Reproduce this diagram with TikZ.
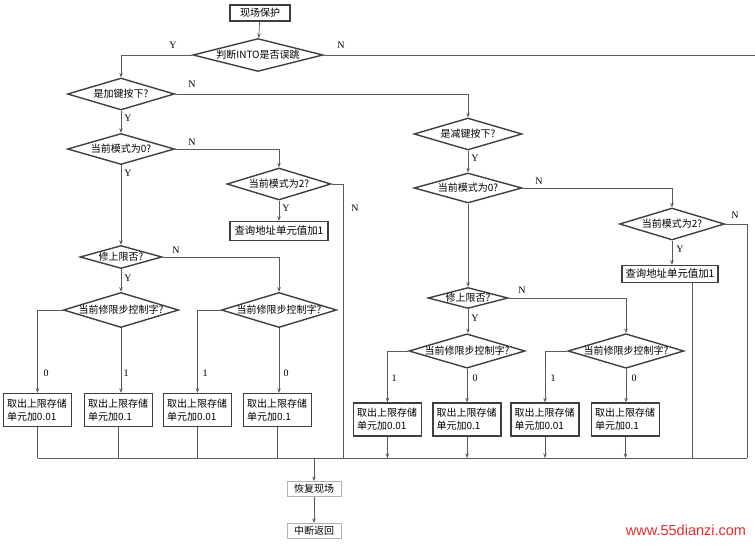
\documentclass[tikz,border=0pt]{standalone}
\usepackage{fontspec}
\setmainfont{Liberation Serif}
\newfontfamily\cjk{Noto Sans CJK SC}
\newfontfamily\wmfont{Liberation Sans}
\usepackage{tikz}
\usetikzlibrary{shapes.geometric,arrows.meta,positioning}
\definecolor{ln}{RGB}{90,90,90}
\definecolor{wm}{RGB}{225,45,45}

\begin{document}
\begin{tikzpicture}[x=1pt, y=-1pt, line width=0.7pt, draw=ln,
  font=\cjk\fontsize{10}{13}\selectfont,
  dec/.style 2 args={draw=ln!70!black, line width=1.4pt, diamond, inner sep=0pt,
              /utils/exec={\pgfmathsetmacro\asp{#1/#2}}, aspect=\asp,
              minimum width=#1pt, minimum height=#2pt},
  box/.style={draw=ln!70!black, line width=1.4pt, inner sep=2pt},
  qbox/.style={box, font=\cjk\fontsize{10.4}{13}\selectfont},
  res/.style={box, align=left, text width=61pt, inner xsep=3.5pt, minimum height=33pt},
  endbox/.style={draw=gray!60, line width=0.8pt, minimum width=54pt, minimum height=15pt, inner sep=1pt},
  lab/.style={font=\rmfamily\fontsize{10}{10}\selectfont, inner sep=0pt},
  ar/.style={-{Stealth[length=4.5pt,width=3.5pt]}}]
  \useasboundingbox (0,0) rectangle (755,544);

  % left half
  \node[box, minimum width=60pt, minimum height=16pt] (prot) at (260,13) {现场保护};
  \node[dec={130}{33}] (judge) at (258,55) {判断INTO是否误跳};
  \node[dec={107}{32}] (jia) at (121,94) {是加键按下?};
  \node[dec={107}{31}] (m0L) at (121,149) {当前模式为0?};
  \node[dec={104}{32}] (m2L) at (279,184) {当前模式为2?};
  \node[qbox, minimum width=98pt, minimum height=19pt] (qL) at (279,231) {查询地址单元值加1};
  \node[dec={82}{23}] (limL) at (121,257) {修上限否?};
  \node[dec={115}{35}] (ctlA) at (121,310) {当前修限步控制字?};
  \node[dec={115}{35}] (ctlB) at (279,310) {当前修限步控制字?};
  \node[res] (b1) at (37.5,410) {取出上限存储\\单元加0.01};
  \node[res] (b2) at (118.5,410) {取出上限存储\\单元加0.1};
  \node[res] (b3) at (197.5,410) {取出上限存储\\单元加0.01};
  \node[res] (b4) at (277.5,410) {取出上限存储\\单元加0.1};

  % right half
  \node[dec={108}{32}] (jian) at (468,134) {是减键按下?};
  \node[dec={108}{30}] (m0R) at (468,188) {当前模式为0?};
  \node[dec={105}{32}] (m2R) at (672,224) {当前模式为2?};
  \node[qbox, minimum width=96pt, minimum height=17pt] (qR) at (670,274) {查询地址单元值加1};
  \node[dec={80}{21}] (limR) at (468,298) {修上限否?};
  \node[dec={115}{34}] (ctlC) at (467,351) {当前修限步控制字?};
  \node[dec={114}{34}] (ctlD) at (626,351) {当前修限步控制字?};
  \node[res] (b5) at (387.5,419.5) {取出上限存储\\单元加0.01};
  \node[res] (b6) at (467,419.5) {取出上限存储\\单元加0.1};
  \node[res] (b7) at (545,419.5) {取出上限存储\\单元加0.01};
  \node[res] (b8) at (625.5,419.5) {取出上限存储\\单元加0.1};

  \node[endbox] (rest) at (314,489) {恢复现场};
  \node[endbox, below=26pt of rest] (ret) {中断返回};
  \node[text=wm, font=\wmfont\fontsize{14.5}{15}\selectfont, inner sep=0pt] (wmark) at (686,530) {www.55dianzi.com};

  \coordinate (eR) at (755,55);
  \coordinate (bR) at (747,458);
  \coordinate (jL) at (343,458);
  \coordinate (jQ) at (692,458);

  \draw[ar] (prot) -- (judge);
  \draw[ar] (judge.west) -| (jia.north);
  \draw (judge.east) -- (eR);
  \draw[ar] (jia.east) -| (jian.north);
  \draw[ar] (jia) -- (m0L);
  \draw[ar] (m0L.east) -| (m2L.north);
  \draw (m2L.east) -| (jL);
  \draw[ar] (m2L) -- (qL);
  \draw[ar] (m0L) -- (limL);
  \draw[ar] (limL.east) -| (ctlB.north);
  \draw[ar] (limL) -- (ctlA);
  \draw[ar] (jian) -- (m0R);
  \draw[ar] (m0R.east) -| (m2R.north);
  \draw (m2R.east) -| (bR);
  \draw[ar] (m2R.south) -- (m2R.south |- qR.north);
  \draw (qR.south -| jQ) -- (jQ);
  \draw[ar] (m0R) -- (limR);
  \draw[ar] (limR.east) -| (ctlD.north);
  \draw[ar] (limR.south) -- (limR.south |- ctlC.north);
  \foreach \d/\l/\r in {ctlA/b1/b2, ctlB/b3/b4, ctlC/b5/b6, ctlD/b7/b8} {
    \draw[ar] (\d.west) -| (\l.north);
    \draw[ar] (\d.south) -- (\d.south |- \r.north);
  }
  \foreach \b in {b1,b2,b3,b4} \draw (\b.south) -- (\b.south |- bR);
  \foreach \b in {b5,b6,b7,b8} \draw[ar] (\b.south) -- (\b.south |- bR);
  \draw (b1.south |- bR) -- (bR);
  \draw[ar] (rest.north |- bR) -- (rest);
  \draw[ar] (rest) -- (ret);

  % Y/N and 0/1 marks
  \foreach \x/\y/\t [count=\k] in {173/45/Y, 341/45/N, 192/84/N, 128/118/Y, 192/142/N,
      128/173/Y, 286/208/Y, 355/208/N, 176/250/N, 128/278/Y, 46/373/0, 126/373/1,
      205/373/1, 286/373/0, 475/158/Y, 539/181/N, 735/215/N, 680/249/Y, 522/290/N,
      475/318/Y, 394/378/1, 475/378/0, 553/378/1, 634/378/0}
    \node[lab] (l\k) at (\x,\y) {\t};
\end{tikzpicture}
\end{document}
